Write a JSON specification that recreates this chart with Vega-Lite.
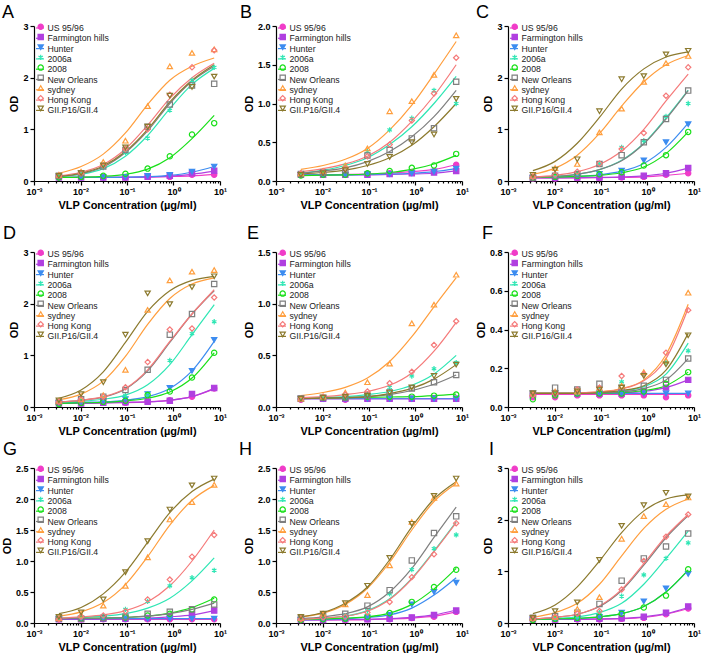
{
"$schema": "https://vega.github.io/schema/vega-lite/v6.json",
"padding": {"left": 1, "top": 4, "right": 1, "bottom": 2},
"data": {"values": [
{"p":"A","s":"US 95/96","c":0.00343,"y":0.07,"f":0.07},{"p":"A","s":"US 95/96","c":0.0103,"y":0.07,"f":0.07},{"p":"A","s":"US 95/96","c":0.0309,"y":0.07,"f":0.07},{"p":"A","s":"US 95/96","c":0.0926,"y":0.07,"f":0.07},{"p":"A","s":"US 95/96","c":0.278,"y":0.08,"f":0.075},{"p":"A","s":"US 95/96","c":0.833,"y":0.08,"f":0.085},{"p":"A","s":"US 95/96","c":2.5,"y":0.12,"f":0.1},{"p":"A","s":"US 95/96","c":7.5,"y":0.12,"f":0.13},
{"p":"A","s":"Farmington hills","c":0.00343,"y":0.07,"f":0.07},{"p":"A","s":"Farmington hills","c":0.0103,"y":0.07,"f":0.07},{"p":"A","s":"Farmington hills","c":0.0309,"y":0.07,"f":0.07},{"p":"A","s":"Farmington hills","c":0.0926,"y":0.07,"f":0.072},{"p":"A","s":"Farmington hills","c":0.278,"y":0.08,"f":0.08},{"p":"A","s":"Farmington hills","c":0.833,"y":0.1,"f":0.095},{"p":"A","s":"Farmington hills","c":2.5,"y":0.15,"f":0.13},{"p":"A","s":"Farmington hills","c":7.5,"y":0.2,"f":0.19},
{"p":"A","s":"Hunter","c":0.00343,"y":0.07,"f":0.07},{"p":"A","s":"Hunter","c":0.0103,"y":0.07,"f":0.07},{"p":"A","s":"Hunter","c":0.0309,"y":0.07,"f":0.07},{"p":"A","s":"Hunter","c":0.0926,"y":0.08,"f":0.075},{"p":"A","s":"Hunter","c":0.278,"y":0.1,"f":0.085},{"p":"A","s":"Hunter","c":0.833,"y":0.12,"f":0.11},{"p":"A","s":"Hunter","c":2.5,"y":0.18,"f":0.17},{"p":"A","s":"Hunter","c":7.5,"y":0.28,"f":0.28},
{"p":"A","s":"2006a","c":0.00343,"y":0.1,"f":0.08},{"p":"A","s":"2006a","c":0.0103,"y":0.14,"f":0.13},{"p":"A","s":"2006a","c":0.0309,"y":0.26,"f":0.24},{"p":"A","s":"2006a","c":0.0926,"y":0.55,"f":0.48},{"p":"A","s":"2006a","c":0.278,"y":0.83,"f":0.88},{"p":"A","s":"2006a","c":0.833,"y":1.37,"f":1.4},{"p":"A","s":"2006a","c":2.5,"y":1.95,"f":1.87},{"p":"A","s":"2006a","c":7.5,"y":2.2,"f":2.18},
{"p":"A","s":"2008","c":0.00343,"y":0.07,"f":0.07},{"p":"A","s":"2008","c":0.0103,"y":0.08,"f":0.075},{"p":"A","s":"2008","c":0.0309,"y":0.1,"f":0.09},{"p":"A","s":"2008","c":0.0926,"y":0.14,"f":0.13},{"p":"A","s":"2008","c":0.278,"y":0.24,"f":0.23},{"p":"A","s":"2008","c":0.833,"y":0.48,"f":0.45},{"p":"A","s":"2008","c":2.5,"y":0.9,"f":0.82},{"p":"A","s":"2008","c":7.5,"y":1.12,"f":1.27},
{"p":"A","s":"New Orleans","c":0.00343,"y":0.1,"f":0.09},{"p":"A","s":"New Orleans","c":0.0103,"y":0.15,"f":0.14},{"p":"A","s":"New Orleans","c":0.0309,"y":0.28,"f":0.27},{"p":"A","s":"New Orleans","c":0.0926,"y":0.6,"f":0.55},{"p":"A","s":"New Orleans","c":0.278,"y":1.05,"f":0.97},{"p":"A","s":"New Orleans","c":0.833,"y":1.48,"f":1.5},{"p":"A","s":"New Orleans","c":2.5,"y":1.85,"f":1.93},{"p":"A","s":"New Orleans","c":7.5,"y":1.88,"f":2.22},
{"p":"A","s":"sydney","c":0.00343,"y":0.12,"f":0.15},{"p":"A","s":"sydney","c":0.0103,"y":0.18,"f":0.28},{"p":"A","s":"sydney","c":0.0309,"y":0.37,"f":0.52},{"p":"A","s":"sydney","c":0.0926,"y":0.78,"f":0.93},{"p":"A","s":"sydney","c":0.278,"y":1.45,"f":1.48},{"p":"A","s":"sydney","c":0.833,"y":2.22,"f":1.95},{"p":"A","s":"sydney","c":2.5,"y":2.48,"f":2.22},{"p":"A","s":"sydney","c":7.5,"y":2.55,"f":2.38},
{"p":"A","s":"Hong Kong","c":0.00343,"y":0.1,"f":0.1},{"p":"A","s":"Hong Kong","c":0.0103,"y":0.15,"f":0.17},{"p":"A","s":"Hong Kong","c":0.0309,"y":0.3,"f":0.32},{"p":"A","s":"Hong Kong","c":0.0926,"y":0.62,"f":0.62},{"p":"A","s":"Hong Kong","c":0.278,"y":1.0,"f":1.08},{"p":"A","s":"Hong Kong","c":0.833,"y":1.67,"f":1.6},{"p":"A","s":"Hong Kong","c":2.5,"y":2.2,"f":2.0},{"p":"A","s":"Hong Kong","c":7.5,"y":2.53,"f":2.28},
{"p":"A","s":"GII.P16/GII.4","c":0.00343,"y":0.1,"f":0.09},{"p":"A","s":"GII.P16/GII.4","c":0.0103,"y":0.15,"f":0.15},{"p":"A","s":"GII.P16/GII.4","c":0.0309,"y":0.3,"f":0.29},{"p":"A","s":"GII.P16/GII.4","c":0.0926,"y":0.65,"f":0.57},{"p":"A","s":"GII.P16/GII.4","c":0.278,"y":1.05,"f":1.0},{"p":"A","s":"GII.P16/GII.4","c":0.833,"y":1.65,"f":1.53},{"p":"A","s":"GII.P16/GII.4","c":2.5,"y":1.82,"f":1.95},{"p":"A","s":"GII.P16/GII.4","c":7.5,"y":2.02,"f":2.25},
{"p":"B","s":"US 95/96","c":0.00343,"y":0.08,"f":0.08},{"p":"B","s":"US 95/96","c":0.0103,"y":0.08,"f":0.08},{"p":"B","s":"US 95/96","c":0.0309,"y":0.08,"f":0.085},{"p":"B","s":"US 95/96","c":0.0926,"y":0.09,"f":0.09},{"p":"B","s":"US 95/96","c":0.278,"y":0.1,"f":0.1},{"p":"B","s":"US 95/96","c":0.833,"y":0.11,"f":0.12},{"p":"B","s":"US 95/96","c":2.5,"y":0.13,"f":0.15},{"p":"B","s":"US 95/96","c":7.5,"y":0.21,"f":0.21},
{"p":"B","s":"Farmington hills","c":0.00343,"y":0.08,"f":0.08},{"p":"B","s":"Farmington hills","c":0.0103,"y":0.08,"f":0.08},{"p":"B","s":"Farmington hills","c":0.0309,"y":0.08,"f":0.08},{"p":"B","s":"Farmington hills","c":0.0926,"y":0.08,"f":0.08},{"p":"B","s":"Farmington hills","c":0.278,"y":0.09,"f":0.085},{"p":"B","s":"Farmington hills","c":0.833,"y":0.1,"f":0.09},{"p":"B","s":"Farmington hills","c":2.5,"y":0.11,"f":0.1},{"p":"B","s":"Farmington hills","c":7.5,"y":0.13,"f":0.13},
{"p":"B","s":"Hunter","c":0.00343,"y":0.08,"f":0.08},{"p":"B","s":"Hunter","c":0.0103,"y":0.08,"f":0.08},{"p":"B","s":"Hunter","c":0.0309,"y":0.08,"f":0.08},{"p":"B","s":"Hunter","c":0.0926,"y":0.09,"f":0.085},{"p":"B","s":"Hunter","c":0.278,"y":0.09,"f":0.09},{"p":"B","s":"Hunter","c":0.833,"y":0.1,"f":0.1},{"p":"B","s":"Hunter","c":2.5,"y":0.12,"f":0.12},{"p":"B","s":"Hunter","c":7.5,"y":0.16,"f":0.16},
{"p":"B","s":"2006a","c":0.00343,"y":0.1,"f":0.1},{"p":"B","s":"2006a","c":0.0103,"y":0.13,"f":0.14},{"p":"B","s":"2006a","c":0.0309,"y":0.2,"f":0.2},{"p":"B","s":"2006a","c":0.0926,"y":0.38,"f":0.3},{"p":"B","s":"2006a","c":0.278,"y":0.66,"f":0.47},{"p":"B","s":"2006a","c":0.833,"y":0.81,"f":0.7},{"p":"B","s":"2006a","c":2.5,"y":1.17,"f":1.0},{"p":"B","s":"2006a","c":7.5,"y":1.0,"f":1.35},
{"p":"B","s":"2008","c":0.00343,"y":0.07,"f":0.07},{"p":"B","s":"2008","c":0.0103,"y":0.08,"f":0.075},{"p":"B","s":"2008","c":0.0309,"y":0.08,"f":0.08},{"p":"B","s":"2008","c":0.0926,"y":0.1,"f":0.09},{"p":"B","s":"2008","c":0.278,"y":0.13,"f":0.11},{"p":"B","s":"2008","c":0.833,"y":0.17,"f":0.15},{"p":"B","s":"2008","c":2.5,"y":0.2,"f":0.22},{"p":"B","s":"2008","c":7.5,"y":0.35,"f":0.33},
{"p":"B","s":"New Orleans","c":0.00343,"y":0.09,"f":0.1},{"p":"B","s":"New Orleans","c":0.0103,"y":0.11,"f":0.13},{"p":"B","s":"New Orleans","c":0.0309,"y":0.14,"f":0.17},{"p":"B","s":"New Orleans","c":0.0926,"y":0.33,"f":0.25},{"p":"B","s":"New Orleans","c":0.278,"y":0.4,"f":0.38},{"p":"B","s":"New Orleans","c":0.833,"y":0.55,"f":0.57},{"p":"B","s":"New Orleans","c":2.5,"y":0.68,"f":0.83},{"p":"B","s":"New Orleans","c":7.5,"y":1.28,"f":1.17},
{"p":"B","s":"sydney","c":0.00343,"y":0.1,"f":0.15},{"p":"B","s":"sydney","c":0.0103,"y":0.13,"f":0.2},{"p":"B","s":"sydney","c":0.0309,"y":0.2,"f":0.28},{"p":"B","s":"sydney","c":0.0926,"y":0.42,"f":0.42},{"p":"B","s":"sydney","c":0.278,"y":0.9,"f":0.66},{"p":"B","s":"sydney","c":0.833,"y":1.03,"f":0.98},{"p":"B","s":"sydney","c":2.5,"y":1.37,"f":1.38},{"p":"B","s":"sydney","c":7.5,"y":1.88,"f":1.8},
{"p":"B","s":"Hong Kong","c":0.00343,"y":0.1,"f":0.12},{"p":"B","s":"Hong Kong","c":0.0103,"y":0.12,"f":0.16},{"p":"B","s":"Hong Kong","c":0.0309,"y":0.16,"f":0.22},{"p":"B","s":"Hong Kong","c":0.0926,"y":0.32,"f":0.32},{"p":"B","s":"Hong Kong","c":0.278,"y":0.47,"f":0.5},{"p":"B","s":"Hong Kong","c":0.833,"y":0.78,"f":0.77},{"p":"B","s":"Hong Kong","c":2.5,"y":1.13,"f":1.1},{"p":"B","s":"Hong Kong","c":7.5,"y":1.59,"f":1.5},
{"p":"B","s":"GII.P16/GII.4","c":0.00343,"y":0.08,"f":0.09},{"p":"B","s":"GII.P16/GII.4","c":0.0103,"y":0.1,"f":0.11},{"p":"B","s":"GII.P16/GII.4","c":0.0309,"y":0.14,"f":0.14},{"p":"B","s":"GII.P16/GII.4","c":0.0926,"y":0.22,"f":0.2},{"p":"B","s":"GII.P16/GII.4","c":0.278,"y":0.31,"f":0.3},{"p":"B","s":"GII.P16/GII.4","c":0.833,"y":0.5,"f":0.46},{"p":"B","s":"GII.P16/GII.4","c":2.5,"y":0.6,"f":0.7},{"p":"B","s":"GII.P16/GII.4","c":7.5,"y":1.06,"f":1.0},
{"p":"C","s":"US 95/96","c":0.00343,"y":0.05,"f":0.06},{"p":"C","s":"US 95/96","c":0.0103,"y":0.05,"f":0.06},{"p":"C","s":"US 95/96","c":0.0309,"y":0.06,"f":0.06},{"p":"C","s":"US 95/96","c":0.0926,"y":0.06,"f":0.065},{"p":"C","s":"US 95/96","c":0.278,"y":0.07,"f":0.07},{"p":"C","s":"US 95/96","c":0.833,"y":0.08,"f":0.08},{"p":"C","s":"US 95/96","c":2.5,"y":0.12,"f":0.11},{"p":"C","s":"US 95/96","c":7.5,"y":0.15,"f":0.15},
{"p":"C","s":"Farmington hills","c":0.00343,"y":0.06,"f":0.06},{"p":"C","s":"Farmington hills","c":0.0103,"y":0.06,"f":0.06},{"p":"C","s":"Farmington hills","c":0.0309,"y":0.07,"f":0.065},{"p":"C","s":"Farmington hills","c":0.0926,"y":0.07,"f":0.07},{"p":"C","s":"Farmington hills","c":0.278,"y":0.08,"f":0.08},{"p":"C","s":"Farmington hills","c":0.833,"y":0.1,"f":0.1},{"p":"C","s":"Farmington hills","c":2.5,"y":0.15,"f":0.15},{"p":"C","s":"Farmington hills","c":7.5,"y":0.25,"f":0.25},
{"p":"C","s":"Hunter","c":0.00343,"y":0.06,"f":0.07},{"p":"C","s":"Hunter","c":0.0103,"y":0.08,"f":0.08},{"p":"C","s":"Hunter","c":0.0309,"y":0.1,"f":0.09},{"p":"C","s":"Hunter","c":0.0926,"y":0.14,"f":0.12},{"p":"C","s":"Hunter","c":0.278,"y":0.2,"f":0.19},{"p":"C","s":"Hunter","c":0.833,"y":0.4,"f":0.34},{"p":"C","s":"Hunter","c":2.5,"y":0.75,"f":0.65},{"p":"C","s":"Hunter","c":7.5,"y":1.1,"f":1.12},
{"p":"C","s":"2006a","c":0.00343,"y":0.07,"f":0.07},{"p":"C","s":"2006a","c":0.0103,"y":0.1,"f":0.09},{"p":"C","s":"2006a","c":0.0309,"y":0.15,"f":0.13},{"p":"C","s":"2006a","c":0.0926,"y":0.33,"f":0.22},{"p":"C","s":"2006a","c":0.278,"y":0.65,"f":0.4},{"p":"C","s":"2006a","c":0.833,"y":0.78,"f":0.73},{"p":"C","s":"2006a","c":2.5,"y":1.25,"f":1.22},{"p":"C","s":"2006a","c":7.5,"y":1.5,"f":1.76},
{"p":"C","s":"2008","c":0.00343,"y":0.06,"f":0.07},{"p":"C","s":"2008","c":0.0103,"y":0.08,"f":0.075},{"p":"C","s":"2008","c":0.0309,"y":0.1,"f":0.09},{"p":"C","s":"2008","c":0.0926,"y":0.13,"f":0.11},{"p":"C","s":"2008","c":0.278,"y":0.17,"f":0.16},{"p":"C","s":"2008","c":0.833,"y":0.3,"f":0.27},{"p":"C","s":"2008","c":2.5,"y":0.5,"f":0.53},{"p":"C","s":"2008","c":7.5,"y":0.95,"f":0.95},
{"p":"C","s":"New Orleans","c":0.00343,"y":0.07,"f":0.07},{"p":"C","s":"New Orleans","c":0.0103,"y":0.1,"f":0.09},{"p":"C","s":"New Orleans","c":0.0309,"y":0.13,"f":0.13},{"p":"C","s":"New Orleans","c":0.0926,"y":0.33,"f":0.22},{"p":"C","s":"New Orleans","c":0.278,"y":0.5,"f":0.39},{"p":"C","s":"New Orleans","c":0.833,"y":0.75,"f":0.72},{"p":"C","s":"New Orleans","c":2.5,"y":1.2,"f":1.2},{"p":"C","s":"New Orleans","c":7.5,"y":1.75,"f":1.75},
{"p":"C","s":"sydney","c":0.00343,"y":0.1,"f":0.13},{"p":"C","s":"sydney","c":0.0103,"y":0.25,"f":0.25},{"p":"C","s":"sydney","c":0.0309,"y":0.33,"f":0.5},{"p":"C","s":"sydney","c":0.0926,"y":0.94,"f":0.92},{"p":"C","s":"sydney","c":0.278,"y":1.4,"f":1.45},{"p":"C","s":"sydney","c":0.833,"y":1.92,"f":1.92},{"p":"C","s":"sydney","c":2.5,"y":2.28,"f":2.25},{"p":"C","s":"sydney","c":7.5,"y":2.42,"f":2.43},
{"p":"C","s":"Hong Kong","c":0.00343,"y":0.08,"f":0.08},{"p":"C","s":"Hong Kong","c":0.0103,"y":0.12,"f":0.11},{"p":"C","s":"Hong Kong","c":0.0309,"y":0.18,"f":0.18},{"p":"C","s":"Hong Kong","c":0.0926,"y":0.34,"f":0.32},{"p":"C","s":"Hong Kong","c":0.278,"y":0.62,"f":0.58},{"p":"C","s":"Hong Kong","c":0.833,"y":0.93,"f":1.0},{"p":"C","s":"Hong Kong","c":2.5,"y":1.65,"f":1.55},{"p":"C","s":"Hong Kong","c":7.5,"y":2.2,"f":2.07},
{"p":"C","s":"GII.P16/GII.4","c":0.00343,"y":0.12,"f":0.2},{"p":"C","s":"GII.P16/GII.4","c":0.0103,"y":0.22,"f":0.38},{"p":"C","s":"GII.P16/GII.4","c":0.0309,"y":0.42,"f":0.73},{"p":"C","s":"GII.P16/GII.4","c":0.0926,"y":1.35,"f":1.23},{"p":"C","s":"GII.P16/GII.4","c":0.278,"y":1.97,"f":1.78},{"p":"C","s":"GII.P16/GII.4","c":0.833,"y":2.03,"f":2.17},{"p":"C","s":"GII.P16/GII.4","c":2.5,"y":2.45,"f":2.4},{"p":"C","s":"GII.P16/GII.4","c":7.5,"y":2.52,"f":2.5},
{"p":"D","s":"US 95/96","c":0.00343,"y":0.07,"f":0.07},{"p":"D","s":"US 95/96","c":0.0103,"y":0.07,"f":0.07},{"p":"D","s":"US 95/96","c":0.0309,"y":0.08,"f":0.08},{"p":"D","s":"US 95/96","c":0.0926,"y":0.08,"f":0.085},{"p":"D","s":"US 95/96","c":0.278,"y":0.1,"f":0.1},{"p":"D","s":"US 95/96","c":0.833,"y":0.13,"f":0.13},{"p":"D","s":"US 95/96","c":2.5,"y":0.2,"f":0.2},{"p":"D","s":"US 95/96","c":7.5,"y":0.36,"f":0.35},
{"p":"D","s":"Farmington hills","c":0.00343,"y":0.07,"f":0.07},{"p":"D","s":"Farmington hills","c":0.0103,"y":0.07,"f":0.07},{"p":"D","s":"Farmington hills","c":0.0309,"y":0.08,"f":0.08},{"p":"D","s":"Farmington hills","c":0.0926,"y":0.09,"f":0.09},{"p":"D","s":"Farmington hills","c":0.278,"y":0.1,"f":0.1},{"p":"D","s":"Farmington hills","c":0.833,"y":0.12,"f":0.13},{"p":"D","s":"Farmington hills","c":2.5,"y":0.25,"f":0.2},{"p":"D","s":"Farmington hills","c":7.5,"y":0.37,"f":0.36},
{"p":"D","s":"Hunter","c":0.00343,"y":0.08,"f":0.08},{"p":"D","s":"Hunter","c":0.0103,"y":0.1,"f":0.09},{"p":"D","s":"Hunter","c":0.0309,"y":0.12,"f":0.1},{"p":"D","s":"Hunter","c":0.0926,"y":0.15,"f":0.13},{"p":"D","s":"Hunter","c":0.278,"y":0.25,"f":0.2},{"p":"D","s":"Hunter","c":0.833,"y":0.37,"f":0.36},{"p":"D","s":"Hunter","c":2.5,"y":0.7,"f":0.7},{"p":"D","s":"Hunter","c":7.5,"y":1.3,"f":1.27},
{"p":"D","s":"2006a","c":0.00343,"y":0.1,"f":0.09},{"p":"D","s":"2006a","c":0.0103,"y":0.12,"f":0.11},{"p":"D","s":"2006a","c":0.0309,"y":0.17,"f":0.15},{"p":"D","s":"2006a","c":0.0926,"y":0.22,"f":0.23},{"p":"D","s":"2006a","c":0.278,"y":0.25,"f":0.43},{"p":"D","s":"2006a","c":0.833,"y":0.9,"f":0.82},{"p":"D","s":"2006a","c":2.5,"y":1.42,"f":1.4},{"p":"D","s":"2006a","c":7.5,"y":1.65,"f":1.98},
{"p":"D","s":"2008","c":0.00343,"y":0.06,"f":0.07},{"p":"D","s":"2008","c":0.0103,"y":0.08,"f":0.08},{"p":"D","s":"2008","c":0.0309,"y":0.1,"f":0.09},{"p":"D","s":"2008","c":0.0926,"y":0.12,"f":0.12},{"p":"D","s":"2008","c":0.278,"y":0.23,"f":0.17},{"p":"D","s":"2008","c":0.833,"y":0.3,"f":0.29},{"p":"D","s":"2008","c":2.5,"y":0.57,"f":0.56},{"p":"D","s":"2008","c":7.5,"y":1.05,"f":1.05},
{"p":"D","s":"New Orleans","c":0.00343,"y":0.1,"f":0.1},{"p":"D","s":"New Orleans","c":0.0103,"y":0.15,"f":0.13},{"p":"D","s":"New Orleans","c":0.0309,"y":0.2,"f":0.19},{"p":"D","s":"New Orleans","c":0.0926,"y":0.33,"f":0.35},{"p":"D","s":"New Orleans","c":0.278,"y":0.72,"f":0.7},{"p":"D","s":"New Orleans","c":0.833,"y":1.4,"f":1.25},{"p":"D","s":"New Orleans","c":2.5,"y":1.8,"f":1.8},{"p":"D","s":"New Orleans","c":7.5,"y":2.38,"f":2.25},
{"p":"D","s":"sydney","c":0.00343,"y":0.12,"f":0.14},{"p":"D","s":"sydney","c":0.0103,"y":0.15,"f":0.25},{"p":"D","s":"sydney","c":0.0309,"y":0.23,"f":0.5},{"p":"D","s":"sydney","c":0.0926,"y":0.72,"f":0.98},{"p":"D","s":"sydney","c":0.278,"y":1.88,"f":1.6},{"p":"D","s":"sydney","c":0.833,"y":2.45,"f":2.1},{"p":"D","s":"sydney","c":2.5,"y":2.62,"f":2.38},{"p":"D","s":"sydney","c":7.5,"y":2.65,"f":2.5},
{"p":"D","s":"Hong Kong","c":0.00343,"y":0.1,"f":0.1},{"p":"D","s":"Hong Kong","c":0.0103,"y":0.15,"f":0.13},{"p":"D","s":"Hong Kong","c":0.0309,"y":0.2,"f":0.2},{"p":"D","s":"Hong Kong","c":0.0926,"y":0.38,"f":0.36},{"p":"D","s":"Hong Kong","c":0.278,"y":0.87,"f":0.72},{"p":"D","s":"Hong Kong","c":0.833,"y":1.5,"f":1.27},{"p":"D","s":"Hong Kong","c":2.5,"y":1.52,"f":1.8},{"p":"D","s":"Hong Kong","c":7.5,"y":2.12,"f":2.27},
{"p":"D","s":"GII.P16/GII.4","c":0.00343,"y":0.13,"f":0.17},{"p":"D","s":"GII.P16/GII.4","c":0.0103,"y":0.25,"f":0.33},{"p":"D","s":"GII.P16/GII.4","c":0.0309,"y":0.48,"f":0.68},{"p":"D","s":"GII.P16/GII.4","c":0.0926,"y":1.4,"f":1.25},{"p":"D","s":"GII.P16/GII.4","c":0.278,"y":2.2,"f":1.85},{"p":"D","s":"GII.P16/GII.4","c":0.833,"y":1.99,"f":2.25},{"p":"D","s":"GII.P16/GII.4","c":2.5,"y":2.32,"f":2.45},{"p":"D","s":"GII.P16/GII.4","c":7.5,"y":2.53,"f":2.53},
{"p":"E","s":"US 95/96","c":0.00343,"y":0.07,"f":0.08},{"p":"E","s":"US 95/96","c":0.0103,"y":0.08,"f":0.08},{"p":"E","s":"US 95/96","c":0.0309,"y":0.07,"f":0.08},{"p":"E","s":"US 95/96","c":0.0926,"y":0.08,"f":0.08},{"p":"E","s":"US 95/96","c":0.278,"y":0.08,"f":0.08},{"p":"E","s":"US 95/96","c":0.833,"y":0.08,"f":0.08},{"p":"E","s":"US 95/96","c":2.5,"y":0.08,"f":0.08},{"p":"E","s":"US 95/96","c":7.5,"y":0.08,"f":0.08},
{"p":"E","s":"Farmington hills","c":0.00343,"y":0.08,"f":0.08},{"p":"E","s":"Farmington hills","c":0.0103,"y":0.08,"f":0.08},{"p":"E","s":"Farmington hills","c":0.0309,"y":0.08,"f":0.08},{"p":"E","s":"Farmington hills","c":0.0926,"y":0.08,"f":0.08},{"p":"E","s":"Farmington hills","c":0.278,"y":0.08,"f":0.08},{"p":"E","s":"Farmington hills","c":0.833,"y":0.08,"f":0.08},{"p":"E","s":"Farmington hills","c":2.5,"y":0.08,"f":0.08},{"p":"E","s":"Farmington hills","c":7.5,"y":0.08,"f":0.08},
{"p":"E","s":"Hunter","c":0.00343,"y":0.08,"f":0.08},{"p":"E","s":"Hunter","c":0.0103,"y":0.08,"f":0.08},{"p":"E","s":"Hunter","c":0.0309,"y":0.08,"f":0.08},{"p":"E","s":"Hunter","c":0.0926,"y":0.08,"f":0.08},{"p":"E","s":"Hunter","c":0.278,"y":0.08,"f":0.08},{"p":"E","s":"Hunter","c":0.833,"y":0.08,"f":0.08},{"p":"E","s":"Hunter","c":2.5,"y":0.08,"f":0.08},{"p":"E","s":"Hunter","c":7.5,"y":0.08,"f":0.08},
{"p":"E","s":"2006a","c":0.00343,"y":0.08,"f":0.08},{"p":"E","s":"2006a","c":0.0103,"y":0.09,"f":0.09},{"p":"E","s":"2006a","c":0.0309,"y":0.1,"f":0.1},{"p":"E","s":"2006a","c":0.0926,"y":0.12,"f":0.12},{"p":"E","s":"2006a","c":0.278,"y":0.19,"f":0.15},{"p":"E","s":"2006a","c":0.833,"y":0.3,"f":0.21},{"p":"E","s":"2006a","c":2.5,"y":0.37,"f":0.32},{"p":"E","s":"2006a","c":7.5,"y":0.43,"f":0.5},
{"p":"E","s":"2008","c":0.00343,"y":0.08,"f":0.085},{"p":"E","s":"2008","c":0.0103,"y":0.09,"f":0.088},{"p":"E","s":"2008","c":0.0309,"y":0.09,"f":0.09},{"p":"E","s":"2008","c":0.0926,"y":0.1,"f":0.093},{"p":"E","s":"2008","c":0.278,"y":0.1,"f":0.097},{"p":"E","s":"2008","c":0.833,"y":0.1,"f":0.1},{"p":"E","s":"2008","c":2.5,"y":0.11,"f":0.11},{"p":"E","s":"2008","c":7.5,"y":0.12,"f":0.125},
{"p":"E","s":"New Orleans","c":0.00343,"y":0.08,"f":0.08},{"p":"E","s":"New Orleans","c":0.0103,"y":0.09,"f":0.085},{"p":"E","s":"New Orleans","c":0.0309,"y":0.09,"f":0.09},{"p":"E","s":"New Orleans","c":0.0926,"y":0.11,"f":0.1},{"p":"E","s":"New Orleans","c":0.278,"y":0.14,"f":0.12},{"p":"E","s":"New Orleans","c":0.833,"y":0.18,"f":0.16},{"p":"E","s":"New Orleans","c":2.5,"y":0.24,"f":0.22},{"p":"E","s":"New Orleans","c":7.5,"y":0.31,"f":0.31},
{"p":"E","s":"sydney","c":0.00343,"y":0.08,"f":0.11},{"p":"E","s":"sydney","c":0.0103,"y":0.1,"f":0.14},{"p":"E","s":"sydney","c":0.0309,"y":0.14,"f":0.19},{"p":"E","s":"sydney","c":0.0926,"y":0.24,"f":0.28},{"p":"E","s":"sydney","c":0.278,"y":0.42,"f":0.44},{"p":"E","s":"sydney","c":0.833,"y":0.81,"f":0.68},{"p":"E","s":"sydney","c":2.5,"y":0.99,"f":0.97},{"p":"E","s":"sydney","c":7.5,"y":1.28,"f":1.25},
{"p":"E","s":"Hong Kong","c":0.00343,"y":0.08,"f":0.09},{"p":"E","s":"Hong Kong","c":0.0103,"y":0.1,"f":0.1},{"p":"E","s":"Hong Kong","c":0.0309,"y":0.12,"f":0.12},{"p":"E","s":"Hong Kong","c":0.0926,"y":0.15,"f":0.15},{"p":"E","s":"Hong Kong","c":0.278,"y":0.23,"f":0.21},{"p":"E","s":"Hong Kong","c":0.833,"y":0.34,"f":0.33},{"p":"E","s":"Hong Kong","c":2.5,"y":0.6,"f":0.54},{"p":"E","s":"Hong Kong","c":7.5,"y":0.83,"f":0.82},
{"p":"E","s":"GII.P16/GII.4","c":0.00343,"y":0.08,"f":0.08},{"p":"E","s":"GII.P16/GII.4","c":0.0103,"y":0.09,"f":0.085},{"p":"E","s":"GII.P16/GII.4","c":0.0309,"y":0.1,"f":0.09},{"p":"E","s":"GII.P16/GII.4","c":0.0926,"y":0.11,"f":0.1},{"p":"E","s":"GII.P16/GII.4","c":0.278,"y":0.14,"f":0.13},{"p":"E","s":"GII.P16/GII.4","c":0.833,"y":0.19,"f":0.18},{"p":"E","s":"GII.P16/GII.4","c":2.5,"y":0.3,"f":0.27},{"p":"E","s":"GII.P16/GII.4","c":7.5,"y":0.41,"f":0.41},
{"p":"F","s":"US 95/96","c":0.00343,"y":0.05,"f":0.065},{"p":"F","s":"US 95/96","c":0.0103,"y":0.05,"f":0.065},{"p":"F","s":"US 95/96","c":0.0309,"y":0.06,"f":0.065},{"p":"F","s":"US 95/96","c":0.0926,"y":0.06,"f":0.065},{"p":"F","s":"US 95/96","c":0.278,"y":0.06,"f":0.065},{"p":"F","s":"US 95/96","c":0.833,"y":0.06,"f":0.065},{"p":"F","s":"US 95/96","c":2.5,"y":0.05,"f":0.065},{"p":"F","s":"US 95/96","c":7.5,"y":0.06,"f":0.065},
{"p":"F","s":"Farmington hills","c":0.00343,"y":0.06,"f":0.07},{"p":"F","s":"Farmington hills","c":0.0103,"y":0.07,"f":0.07},{"p":"F","s":"Farmington hills","c":0.0309,"y":0.07,"f":0.07},{"p":"F","s":"Farmington hills","c":0.0926,"y":0.07,"f":0.07},{"p":"F","s":"Farmington hills","c":0.278,"y":0.07,"f":0.073},{"p":"F","s":"Farmington hills","c":0.833,"y":0.08,"f":0.08},{"p":"F","s":"Farmington hills","c":2.5,"y":0.1,"f":0.1},{"p":"F","s":"Farmington hills","c":7.5,"y":0.14,"f":0.14},
{"p":"F","s":"Hunter","c":0.00343,"y":0.07,"f":0.07},{"p":"F","s":"Hunter","c":0.0103,"y":0.07,"f":0.07},{"p":"F","s":"Hunter","c":0.0309,"y":0.07,"f":0.07},{"p":"F","s":"Hunter","c":0.0926,"y":0.07,"f":0.07},{"p":"F","s":"Hunter","c":0.278,"y":0.07,"f":0.07},{"p":"F","s":"Hunter","c":0.833,"y":0.07,"f":0.07},{"p":"F","s":"Hunter","c":2.5,"y":0.07,"f":0.07},{"p":"F","s":"Hunter","c":7.5,"y":0.07,"f":0.07},
{"p":"F","s":"2006a","c":0.00343,"y":0.06,"f":0.07},{"p":"F","s":"2006a","c":0.0103,"y":0.07,"f":0.07},{"p":"F","s":"2006a","c":0.0309,"y":0.08,"f":0.07},{"p":"F","s":"2006a","c":0.0926,"y":0.09,"f":0.073},{"p":"F","s":"2006a","c":0.278,"y":0.13,"f":0.082},{"p":"F","s":"2006a","c":0.833,"y":0.17,"f":0.105},{"p":"F","s":"2006a","c":2.5,"y":0.23,"f":0.17},{"p":"F","s":"2006a","c":7.5,"y":0.29,"f":0.33},
{"p":"F","s":"2008","c":0.00343,"y":0.04,"f":0.07},{"p":"F","s":"2008","c":0.0103,"y":0.06,"f":0.07},{"p":"F","s":"2008","c":0.0309,"y":0.07,"f":0.07},{"p":"F","s":"2008","c":0.0926,"y":0.07,"f":0.071},{"p":"F","s":"2008","c":0.278,"y":0.07,"f":0.075},{"p":"F","s":"2008","c":0.833,"y":0.08,"f":0.085},{"p":"F","s":"2008","c":2.5,"y":0.12,"f":0.11},{"p":"F","s":"2008","c":7.5,"y":0.18,"f":0.18},
{"p":"F","s":"New Orleans","c":0.00343,"y":0.07,"f":0.07},{"p":"F","s":"New Orleans","c":0.0103,"y":0.1,"f":0.07},{"p":"F","s":"New Orleans","c":0.0309,"y":0.09,"f":0.07},{"p":"F","s":"New Orleans","c":0.0926,"y":0.12,"f":0.072},{"p":"F","s":"New Orleans","c":0.278,"y":0.1,"f":0.078},{"p":"F","s":"New Orleans","c":0.833,"y":0.11,"f":0.095},{"p":"F","s":"New Orleans","c":2.5,"y":0.14,"f":0.14},{"p":"F","s":"New Orleans","c":7.5,"y":0.25,"f":0.25},
{"p":"F","s":"sydney","c":0.00343,"y":0.07,"f":0.07},{"p":"F","s":"sydney","c":0.0103,"y":0.08,"f":0.07},{"p":"F","s":"sydney","c":0.0309,"y":0.08,"f":0.072},{"p":"F","s":"sydney","c":0.0926,"y":0.1,"f":0.078},{"p":"F","s":"sydney","c":0.278,"y":0.11,"f":0.095},{"p":"F","s":"sydney","c":0.833,"y":0.18,"f":0.14},{"p":"F","s":"sydney","c":2.5,"y":0.24,"f":0.27},{"p":"F","s":"sydney","c":7.5,"y":0.59,"f":0.53},
{"p":"F","s":"Hong Kong","c":0.00343,"y":0.06,"f":0.07},{"p":"F","s":"Hong Kong","c":0.0103,"y":0.07,"f":0.07},{"p":"F","s":"Hong Kong","c":0.0309,"y":0.09,"f":0.072},{"p":"F","s":"Hong Kong","c":0.0926,"y":0.1,"f":0.078},{"p":"F","s":"Hong Kong","c":0.278,"y":0.16,"f":0.093},{"p":"F","s":"Hong Kong","c":0.833,"y":0.17,"f":0.135},{"p":"F","s":"Hong Kong","c":2.5,"y":0.28,"f":0.25},{"p":"F","s":"Hong Kong","c":7.5,"y":0.5,"f":0.51},
{"p":"F","s":"GII.P16/GII.4","c":0.00343,"y":0.07,"f":0.07},{"p":"F","s":"GII.P16/GII.4","c":0.0103,"y":0.07,"f":0.07},{"p":"F","s":"GII.P16/GII.4","c":0.0309,"y":0.08,"f":0.07},{"p":"F","s":"GII.P16/GII.4","c":0.0926,"y":0.09,"f":0.075},{"p":"F","s":"GII.P16/GII.4","c":0.278,"y":0.1,"f":0.085},{"p":"F","s":"GII.P16/GII.4","c":0.833,"y":0.16,"f":0.11},{"p":"F","s":"GII.P16/GII.4","c":2.5,"y":0.22,"f":0.19},{"p":"F","s":"GII.P16/GII.4","c":7.5,"y":0.37,"f":0.38},
{"p":"G","s":"US 95/96","c":0.00343,"y":0.06,"f":0.06},{"p":"G","s":"US 95/96","c":0.0103,"y":0.06,"f":0.06},{"p":"G","s":"US 95/96","c":0.0309,"y":0.06,"f":0.06},{"p":"G","s":"US 95/96","c":0.0926,"y":0.06,"f":0.06},{"p":"G","s":"US 95/96","c":0.278,"y":0.06,"f":0.06},{"p":"G","s":"US 95/96","c":0.833,"y":0.06,"f":0.06},{"p":"G","s":"US 95/96","c":2.5,"y":0.06,"f":0.06},{"p":"G","s":"US 95/96","c":7.5,"y":0.06,"f":0.06},
{"p":"G","s":"Farmington hills","c":0.00343,"y":0.06,"f":0.06},{"p":"G","s":"Farmington hills","c":0.0103,"y":0.06,"f":0.06},{"p":"G","s":"Farmington hills","c":0.0309,"y":0.07,"f":0.065},{"p":"G","s":"Farmington hills","c":0.0926,"y":0.07,"f":0.07},{"p":"G","s":"Farmington hills","c":0.278,"y":0.08,"f":0.08},{"p":"G","s":"Farmington hills","c":0.833,"y":0.1,"f":0.1},{"p":"G","s":"Farmington hills","c":2.5,"y":0.13,"f":0.13},{"p":"G","s":"Farmington hills","c":7.5,"y":0.2,"f":0.2},
{"p":"G","s":"Hunter","c":0.00343,"y":0.07,"f":0.07},{"p":"G","s":"Hunter","c":0.0103,"y":0.07,"f":0.07},{"p":"G","s":"Hunter","c":0.0309,"y":0.07,"f":0.07},{"p":"G","s":"Hunter","c":0.0926,"y":0.07,"f":0.07},{"p":"G","s":"Hunter","c":0.278,"y":0.07,"f":0.07},{"p":"G","s":"Hunter","c":0.833,"y":0.07,"f":0.07},{"p":"G","s":"Hunter","c":2.5,"y":0.07,"f":0.07},{"p":"G","s":"Hunter","c":7.5,"y":0.07,"f":0.07},
{"p":"G","s":"2006a","c":0.00343,"y":0.07,"f":0.08},{"p":"G","s":"2006a","c":0.0103,"y":0.1,"f":0.09},{"p":"G","s":"2006a","c":0.0309,"y":0.12,"f":0.11},{"p":"G","s":"2006a","c":0.0926,"y":0.22,"f":0.15},{"p":"G","s":"2006a","c":0.278,"y":0.35,"f":0.24},{"p":"G","s":"2006a","c":0.833,"y":0.6,"f":0.4},{"p":"G","s":"2006a","c":2.5,"y":0.73,"f":0.68},{"p":"G","s":"2006a","c":7.5,"y":0.85,"f":1.05},
{"p":"G","s":"2008","c":0.00343,"y":0.07,"f":0.07},{"p":"G","s":"2008","c":0.0103,"y":0.07,"f":0.075},{"p":"G","s":"2008","c":0.0309,"y":0.08,"f":0.08},{"p":"G","s":"2008","c":0.0926,"y":0.09,"f":0.09},{"p":"G","s":"2008","c":0.278,"y":0.12,"f":0.11},{"p":"G","s":"2008","c":0.833,"y":0.15,"f":0.16},{"p":"G","s":"2008","c":2.5,"y":0.22,"f":0.25},{"p":"G","s":"2008","c":7.5,"y":0.38,"f":0.4},
{"p":"G","s":"New Orleans","c":0.00343,"y":0.07,"f":0.07},{"p":"G","s":"New Orleans","c":0.0103,"y":0.07,"f":0.075},{"p":"G","s":"New Orleans","c":0.0309,"y":0.08,"f":0.08},{"p":"G","s":"New Orleans","c":0.0926,"y":0.1,"f":0.09},{"p":"G","s":"New Orleans","c":0.278,"y":0.15,"f":0.11},{"p":"G","s":"New Orleans","c":0.833,"y":0.18,"f":0.15},{"p":"G","s":"New Orleans","c":2.5,"y":0.22,"f":0.22},{"p":"G","s":"New Orleans","c":7.5,"y":0.3,"f":0.32},
{"p":"G","s":"sydney","c":0.00343,"y":0.08,"f":0.11},{"p":"G","s":"sydney","c":0.0103,"y":0.13,"f":0.18},{"p":"G","s":"sydney","c":0.0309,"y":0.28,"f":0.33},{"p":"G","s":"sydney","c":0.0926,"y":0.6,"f":0.62},{"p":"G","s":"sydney","c":0.278,"y":1.06,"f":1.07},{"p":"G","s":"sydney","c":0.833,"y":1.67,"f":1.58},{"p":"G","s":"sydney","c":2.5,"y":1.95,"f":1.98},{"p":"G","s":"sydney","c":7.5,"y":2.23,"f":2.22},
{"p":"G","s":"Hong Kong","c":0.00343,"y":0.06,"f":0.08},{"p":"G","s":"Hong Kong","c":0.0103,"y":0.1,"f":0.1},{"p":"G","s":"Hong Kong","c":0.0309,"y":0.12,"f":0.13},{"p":"G","s":"Hong Kong","c":0.0926,"y":0.19,"f":0.2},{"p":"G","s":"Hong Kong","c":0.278,"y":0.38,"f":0.34},{"p":"G","s":"Hong Kong","c":0.833,"y":0.7,"f":0.6},{"p":"G","s":"Hong Kong","c":2.5,"y":1.07,"f":1.0},{"p":"G","s":"Hong Kong","c":7.5,"y":1.42,"f":1.5},
{"p":"G","s":"GII.P16/GII.4","c":0.00343,"y":0.1,"f":0.15},{"p":"G","s":"GII.P16/GII.4","c":0.0103,"y":0.17,"f":0.25},{"p":"G","s":"GII.P16/GII.4","c":0.0309,"y":0.38,"f":0.47},{"p":"G","s":"GII.P16/GII.4","c":0.0926,"y":0.82,"f":0.82},{"p":"G","s":"GII.P16/GII.4","c":0.278,"y":1.32,"f":1.3},{"p":"G","s":"GII.P16/GII.4","c":0.833,"y":1.83,"f":1.78},{"p":"G","s":"GII.P16/GII.4","c":2.5,"y":2.22,"f":2.12},{"p":"G","s":"GII.P16/GII.4","c":7.5,"y":2.33,"f":2.32},
{"p":"H","s":"US 95/96","c":0.00343,"y":0.05,"f":0.05},{"p":"H","s":"US 95/96","c":0.0103,"y":0.05,"f":0.05},{"p":"H","s":"US 95/96","c":0.0309,"y":0.05,"f":0.05},{"p":"H","s":"US 95/96","c":0.0926,"y":0.06,"f":0.055},{"p":"H","s":"US 95/96","c":0.278,"y":0.06,"f":0.065},{"p":"H","s":"US 95/96","c":0.833,"y":0.08,"f":0.08},{"p":"H","s":"US 95/96","c":2.5,"y":0.1,"f":0.11},{"p":"H","s":"US 95/96","c":7.5,"y":0.18,"f":0.18},
{"p":"H","s":"Farmington hills","c":0.00343,"y":0.05,"f":0.05},{"p":"H","s":"Farmington hills","c":0.0103,"y":0.05,"f":0.05},{"p":"H","s":"Farmington hills","c":0.0309,"y":0.06,"f":0.055},{"p":"H","s":"Farmington hills","c":0.0926,"y":0.06,"f":0.06},{"p":"H","s":"Farmington hills","c":0.278,"y":0.07,"f":0.07},{"p":"H","s":"Farmington hills","c":0.833,"y":0.09,"f":0.09},{"p":"H","s":"Farmington hills","c":2.5,"y":0.13,"f":0.13},{"p":"H","s":"Farmington hills","c":7.5,"y":0.2,"f":0.21},
{"p":"H","s":"Hunter","c":0.00343,"y":0.05,"f":0.05},{"p":"H","s":"Hunter","c":0.0103,"y":0.06,"f":0.06},{"p":"H","s":"Hunter","c":0.0309,"y":0.07,"f":0.07},{"p":"H","s":"Hunter","c":0.0926,"y":0.09,"f":0.09},{"p":"H","s":"Hunter","c":0.278,"y":0.13,"f":0.13},{"p":"H","s":"Hunter","c":0.833,"y":0.3,"f":0.24},{"p":"H","s":"Hunter","c":2.5,"y":0.5,"f":0.45},{"p":"H","s":"Hunter","c":7.5,"y":0.65,"f":0.73},
{"p":"H","s":"2006a","c":0.00343,"y":0.07,"f":0.06},{"p":"H","s":"2006a","c":0.0103,"y":0.1,"f":0.08},{"p":"H","s":"2006a","c":0.0309,"y":0.12,"f":0.11},{"p":"H","s":"2006a","c":0.0926,"y":0.2,"f":0.2},{"p":"H","s":"2006a","c":0.278,"y":0.47,"f":0.39},{"p":"H","s":"2006a","c":0.833,"y":0.86,"f":0.72},{"p":"H","s":"2006a","c":2.5,"y":1.2,"f":1.16},{"p":"H","s":"2006a","c":7.5,"y":1.42,"f":1.63},
{"p":"H","s":"2008","c":0.00343,"y":0.05,"f":0.06},{"p":"H","s":"2008","c":0.0103,"y":0.06,"f":0.065},{"p":"H","s":"2008","c":0.0309,"y":0.07,"f":0.08},{"p":"H","s":"2008","c":0.0926,"y":0.1,"f":0.1},{"p":"H","s":"2008","c":0.278,"y":0.16,"f":0.16},{"p":"H","s":"2008","c":0.833,"y":0.34,"f":0.3},{"p":"H","s":"2008","c":2.5,"y":0.58,"f":0.55},{"p":"H","s":"2008","c":7.5,"y":0.86,"f":0.88},
{"p":"H","s":"New Orleans","c":0.00343,"y":0.08,"f":0.07},{"p":"H","s":"New Orleans","c":0.0103,"y":0.12,"f":0.1},{"p":"H","s":"New Orleans","c":0.0309,"y":0.15,"f":0.15},{"p":"H","s":"New Orleans","c":0.0926,"y":0.28,"f":0.26},{"p":"H","s":"New Orleans","c":0.278,"y":0.53,"f":0.5},{"p":"H","s":"New Orleans","c":0.833,"y":1.01,"f":0.88},{"p":"H","s":"New Orleans","c":2.5,"y":1.45,"f":1.38},{"p":"H","s":"New Orleans","c":7.5,"y":1.72,"f":1.87},
{"p":"H","s":"sydney","c":0.00343,"y":0.08,"f":0.1},{"p":"H","s":"sydney","c":0.0103,"y":0.15,"f":0.16},{"p":"H","s":"sydney","c":0.0309,"y":0.3,"f":0.3},{"p":"H","s":"sydney","c":0.0926,"y":0.45,"f":0.56},{"p":"H","s":"sydney","c":0.278,"y":0.93,"f":0.98},{"p":"H","s":"sydney","c":0.833,"y":1.63,"f":1.5},{"p":"H","s":"sydney","c":2.5,"y":2.02,"f":1.96},{"p":"H","s":"sydney","c":7.5,"y":2.25,"f":2.25},
{"p":"H","s":"Hong Kong","c":0.00343,"y":0.06,"f":0.06},{"p":"H","s":"Hong Kong","c":0.0103,"y":0.09,"f":0.08},{"p":"H","s":"Hong Kong","c":0.0309,"y":0.1,"f":0.11},{"p":"H","s":"Hong Kong","c":0.0926,"y":0.17,"f":0.19},{"p":"H","s":"Hong Kong","c":0.278,"y":0.34,"f":0.38},{"p":"H","s":"Hong Kong","c":0.833,"y":0.74,"f":0.71},{"p":"H","s":"Hong Kong","c":2.5,"y":1.11,"f":1.15},{"p":"H","s":"Hong Kong","c":7.5,"y":1.61,"f":1.62},
{"p":"H","s":"GII.P16/GII.4","c":0.00343,"y":0.1,"f":0.1},{"p":"H","s":"GII.P16/GII.4","c":0.0103,"y":0.15,"f":0.17},{"p":"H","s":"GII.P16/GII.4","c":0.0309,"y":0.32,"f":0.32},{"p":"H","s":"GII.P16/GII.4","c":0.0926,"y":0.6,"f":0.58},{"p":"H","s":"GII.P16/GII.4","c":0.278,"y":1.05,"f":1.02},{"p":"H","s":"GII.P16/GII.4","c":0.833,"y":1.6,"f":1.55},{"p":"H","s":"GII.P16/GII.4","c":2.5,"y":2.05,"f":2.0},{"p":"H","s":"GII.P16/GII.4","c":7.5,"y":2.33,"f":2.28},
{"p":"I","s":"US 95/96","c":0.00343,"y":0.07,"f":0.07},{"p":"I","s":"US 95/96","c":0.0103,"y":0.07,"f":0.07},{"p":"I","s":"US 95/96","c":0.0309,"y":0.07,"f":0.07},{"p":"I","s":"US 95/96","c":0.0926,"y":0.07,"f":0.075},{"p":"I","s":"US 95/96","c":0.278,"y":0.08,"f":0.085},{"p":"I","s":"US 95/96","c":0.833,"y":0.1,"f":0.11},{"p":"I","s":"US 95/96","c":2.5,"y":0.17,"f":0.17},{"p":"I","s":"US 95/96","c":7.5,"y":0.28,"f":0.28},
{"p":"I","s":"Farmington hills","c":0.00343,"y":0.07,"f":0.07},{"p":"I","s":"Farmington hills","c":0.0103,"y":0.07,"f":0.07},{"p":"I","s":"Farmington hills","c":0.0309,"y":0.08,"f":0.075},{"p":"I","s":"Farmington hills","c":0.0926,"y":0.08,"f":0.08},{"p":"I","s":"Farmington hills","c":0.278,"y":0.09,"f":0.09},{"p":"I","s":"Farmington hills","c":0.833,"y":0.12,"f":0.12},{"p":"I","s":"Farmington hills","c":2.5,"y":0.2,"f":0.18},{"p":"I","s":"Farmington hills","c":7.5,"y":0.32,"f":0.3},
{"p":"I","s":"Hunter","c":0.00343,"y":0.07,"f":0.07},{"p":"I","s":"Hunter","c":0.0103,"y":0.08,"f":0.08},{"p":"I","s":"Hunter","c":0.0309,"y":0.09,"f":0.09},{"p":"I","s":"Hunter","c":0.0926,"y":0.12,"f":0.12},{"p":"I","s":"Hunter","c":0.278,"y":0.2,"f":0.18},{"p":"I","s":"Hunter","c":0.833,"y":0.42,"f":0.32},{"p":"I","s":"Hunter","c":2.5,"y":0.67,"f":0.6},{"p":"I","s":"Hunter","c":7.5,"y":0.95,"f":1.02},
{"p":"I","s":"2006a","c":0.00343,"y":0.07,"f":0.07},{"p":"I","s":"2006a","c":0.0103,"y":0.1,"f":0.09},{"p":"I","s":"2006a","c":0.0309,"y":0.12,"f":0.12},{"p":"I","s":"2006a","c":0.0926,"y":0.2,"f":0.2},{"p":"I","s":"2006a","c":0.278,"y":0.52,"f":0.38},{"p":"I","s":"2006a","c":0.833,"y":0.93,"f":0.75},{"p":"I","s":"2006a","c":2.5,"y":1.25,"f":1.25},{"p":"I","s":"2006a","c":7.5,"y":1.55,"f":1.78},
{"p":"I","s":"2008","c":0.00343,"y":0.06,"f":0.07},{"p":"I","s":"2008","c":0.0103,"y":0.08,"f":0.08},{"p":"I","s":"2008","c":0.0309,"y":0.1,"f":0.09},{"p":"I","s":"2008","c":0.0926,"y":0.12,"f":0.12},{"p":"I","s":"2008","c":0.278,"y":0.18,"f":0.18},{"p":"I","s":"2008","c":0.833,"y":0.3,"f":0.32},{"p":"I","s":"2008","c":2.5,"y":0.53,"f":0.6},{"p":"I","s":"2008","c":7.5,"y":1.04,"f":1.03},
{"p":"I","s":"New Orleans","c":0.00343,"y":0.1,"f":0.08},{"p":"I","s":"New Orleans","c":0.0103,"y":0.13,"f":0.11},{"p":"I","s":"New Orleans","c":0.0309,"y":0.2,"f":0.17},{"p":"I","s":"New Orleans","c":0.0926,"y":0.37,"f":0.32},{"p":"I","s":"New Orleans","c":0.278,"y":0.82,"f":0.63},{"p":"I","s":"New Orleans","c":0.833,"y":1.25,"f":1.12},{"p":"I","s":"New Orleans","c":2.5,"y":1.48,"f":1.65},{"p":"I","s":"New Orleans","c":7.5,"y":1.73,"f":2.08},
{"p":"I","s":"sydney","c":0.00343,"y":0.1,"f":0.11},{"p":"I","s":"sydney","c":0.0103,"y":0.12,"f":0.2},{"p":"I","s":"sydney","c":0.0309,"y":0.27,"f":0.38},{"p":"I","s":"sydney","c":0.0926,"y":0.5,"f":0.75},{"p":"I","s":"sydney","c":0.278,"y":1.63,"f":1.3},{"p":"I","s":"sydney","c":0.833,"y":2.07,"f":1.83},{"p":"I","s":"sydney","c":2.5,"y":2.3,"f":2.2},{"p":"I","s":"sydney","c":7.5,"y":2.43,"f":2.4},
{"p":"I","s":"Hong Kong","c":0.00343,"y":0.08,"f":0.08},{"p":"I","s":"Hong Kong","c":0.0103,"y":0.12,"f":0.11},{"p":"I","s":"Hong Kong","c":0.0309,"y":0.18,"f":0.17},{"p":"I","s":"Hong Kong","c":0.0926,"y":0.23,"f":0.33},{"p":"I","s":"Hong Kong","c":0.278,"y":0.65,"f":0.65},{"p":"I","s":"Hong Kong","c":0.833,"y":1.2,"f":1.15},{"p":"I","s":"Hong Kong","c":2.5,"y":1.67,"f":1.68},{"p":"I","s":"Hong Kong","c":7.5,"y":2.1,"f":2.1},
{"p":"I","s":"GII.P16/GII.4","c":0.00343,"y":0.1,"f":0.18},{"p":"I","s":"GII.P16/GII.4","c":0.0103,"y":0.23,"f":0.35},{"p":"I","s":"GII.P16/GII.4","c":0.0309,"y":0.4,"f":0.7},{"p":"I","s":"GII.P16/GII.4","c":0.0926,"y":1.22,"f":1.2},{"p":"I","s":"GII.P16/GII.4","c":0.278,"y":1.88,"f":1.75},{"p":"I","s":"GII.P16/GII.4","c":0.833,"y":2.28,"f":2.17},{"p":"I","s":"GII.P16/GII.4","c":2.5,"y":2.52,"f":2.4},{"p":"I","s":"GII.P16/GII.4","c":7.5,"y":2.45,"f":2.48}
]},
"spacing": 226,
"bounds": "flush",
"resolve": {"scale": {"color": "independent", "stroke": "independent", "fill": "independent", "shape": "independent"}},
"vconcat": [
{"hconcat": [
{"title": {"text": "A", "dx": -32, "offset": 0}, "width": 186, "height": 155, "transform": [{"filter": "datum.p === 'A'"}],
 "encoding": {"x": {"field": "c", "type": "quantitative", "scale": {"type": "log", "domain": [0.001, 10], "nice": false}, "axis": {"title": "VLP Concentration (µg/ml)", "values": [0.001,0.002,0.003,0.004,0.005,0.006,0.007,0.008,0.009,0.01,0.02,0.03,0.04,0.05,0.06,0.07,0.08,0.09,0.1,0.2,0.3,0.4,0.5,0.6,0.7,0.8,0.9,1,2,3,4,5,6,7,8,9,10], "labelExpr": "datum.value === 0.001 ? '10⁻³' : datum.value === 0.01 ? '10⁻²' : datum.value === 0.1 ? '10⁻¹' : datum.value === 1 ? '10⁰' : datum.value === 10 ? '10¹' : ''", "tickSize": {"condition": {"test": "indexof([0.001,0.01,0.1,1,10], datum.value) >= 0", "value": 4}, "value": 2}}}},
 "layer": [
  {"mark": {"type": "line", "strokeWidth": 1.2, "interpolate": "monotone"},
   "encoding": {"y": {"field": "f", "type": "quantitative", "scale": {"domain": [0, 3], "nice": false}, "axis": {"title": "OD", "values": [0,1,2,3], "format": "d"}},
    "color": {"field": "s", "type": "nominal", "scale": {"domain": ["US 95/96","Farmington hills","Hunter","2006a","2008","New Orleans","sydney","Hong Kong","GII.P16/GII.4","~"], "range": ["#F03CC8","#B03FE0","#3C8CF0","#2EE6B4","#19E019","#7F7F7F","#FF9E3D","#F57A7A","#8C7A2E","#ffffff"]},
     "legend": {"values": ["US 95/96","Farmington hills","Hunter","2006a","2008","New Orleans","sydney","Hong Kong","GII.P16/GII.4"], "title": null, "orient": "none", "legendX": 1, "legendY": -3, "symbolType": "stroke", "symbolSize": 64, "labelOffset": 2.5, "rowPadding": 0.3}}}},
  {"mark": {"type": "point", "size": 28, "strokeWidth": 1.2, "opacity": 1},
   "encoding": {"y": {"field": "y", "type": "quantitative", "axis": {"title": "OD", "values": [0,1,2,3], "format": "d"}},
    "stroke": {"field": "s", "type": "nominal", "scale": {"domain": ["US 95/96","Farmington hills","Hunter","2006a","2008","New Orleans","sydney","Hong Kong","GII.P16/GII.4"], "range": ["#F03CC8","#B03FE0","#3C8CF0","#2EE6B4","#19E019","#7F7F7F","#FF9E3D","#F57A7A","#8C7A2E"]}, "legend": {"title": null, "orient": "none", "legendX": 2.35, "legendY": -3.55, "symbolSize": 28, "labelOpacity": 0, "labelExpr": "' '", "rowPadding": -0.8}},
    "fill": {"field": "s", "type": "nominal", "scale": {"domain": ["US 95/96","Farmington hills","Hunter","2006a","2008","New Orleans","sydney","Hong Kong","GII.P16/GII.4"], "range": ["#F03CC8","#B03FE0","#3C8CF0","#2EE6B4","transparent","transparent","transparent","transparent","transparent"]}, "legend": {"title": null, "orient": "none", "legendX": 2.35, "legendY": -3.55, "symbolSize": 28, "labelOpacity": 0, "labelExpr": "' '", "rowPadding": -0.8}},
    "shape": {"field": "s", "type": "nominal", "scale": {"domain": ["US 95/96","Farmington hills","Hunter","2006a","2008","New Orleans","sydney","Hong Kong","GII.P16/GII.4"], "range": ["circle","square","triangle-down","M0,-1V1M-0.85,-0.5L0.85,0.5M-0.85,0.5L0.85,-0.5","circle","square","triangle-up","diamond","triangle-down"]}, "legend": {"title": null, "orient": "none", "legendX": 2.35, "legendY": -3.55, "symbolSize": 28, "labelOpacity": 0, "labelExpr": "' '", "rowPadding": -0.8}}}}
 ]},
{"hconcat": [
{"title": {"text": "B", "dx": -36, "offset": 0}, "width": 186, "height": 155, "transform": [{"filter": "datum.p === 'B'"}],
 "encoding": {"x": {"field": "c", "type": "quantitative", "scale": {"type": "log", "domain": [0.001, 10], "nice": false}, "axis": {"title": "VLP Concentration (µg/ml)", "values": [0.001,0.002,0.003,0.004,0.005,0.006,0.007,0.008,0.009,0.01,0.02,0.03,0.04,0.05,0.06,0.07,0.08,0.09,0.1,0.2,0.3,0.4,0.5,0.6,0.7,0.8,0.9,1,2,3,4,5,6,7,8,9,10], "labelExpr": "datum.value === 0.001 ? '10⁻³' : datum.value === 0.01 ? '10⁻²' : datum.value === 0.1 ? '10⁻¹' : datum.value === 1 ? '10⁰' : datum.value === 10 ? '10¹' : ''", "tickSize": {"condition": {"test": "indexof([0.001,0.01,0.1,1,10], datum.value) >= 0", "value": 4}, "value": 2}}}},
 "layer": [
  {"mark": {"type": "line", "strokeWidth": 1.2, "interpolate": "monotone"},
   "encoding": {"y": {"field": "f", "type": "quantitative", "scale": {"domain": [0, 2], "nice": false}, "axis": {"title": "OD", "values": [0,0.5,1,1.5,2], "format": ".1f"}},
    "color": {"field": "s", "type": "nominal", "scale": {"domain": ["US 95/96","Farmington hills","Hunter","2006a","2008","New Orleans","sydney","Hong Kong","GII.P16/GII.4","~"], "range": ["#F03CC8","#B03FE0","#3C8CF0","#2EE6B4","#19E019","#7F7F7F","#FF9E3D","#F57A7A","#8C7A2E","#ffffff"]},
     "legend": {"values": ["US 95/96","Farmington hills","Hunter","2006a","2008","New Orleans","sydney","Hong Kong","GII.P16/GII.4"], "title": null, "orient": "none", "legendX": 1, "legendY": -3, "symbolType": "stroke", "symbolSize": 64, "labelOffset": 2.5, "rowPadding": 0.3}}}},
  {"mark": {"type": "point", "size": 28, "strokeWidth": 1.2, "opacity": 1},
   "encoding": {"y": {"field": "y", "type": "quantitative", "axis": {"title": "OD", "values": [0,0.5,1,1.5,2], "format": ".1f"}},
    "stroke": {"field": "s", "type": "nominal", "scale": {"domain": ["US 95/96","Farmington hills","Hunter","2006a","2008","New Orleans","sydney","Hong Kong","GII.P16/GII.4"], "range": ["#F03CC8","#B03FE0","#3C8CF0","#2EE6B4","#19E019","#7F7F7F","#FF9E3D","#F57A7A","#8C7A2E"]}, "legend": {"title": null, "orient": "none", "legendX": 2.35, "legendY": -3.55, "symbolSize": 28, "labelOpacity": 0, "labelExpr": "' '", "rowPadding": -0.8}},
    "fill": {"field": "s", "type": "nominal", "scale": {"domain": ["US 95/96","Farmington hills","Hunter","2006a","2008","New Orleans","sydney","Hong Kong","GII.P16/GII.4"], "range": ["#F03CC8","#B03FE0","#3C8CF0","#2EE6B4","transparent","transparent","transparent","transparent","transparent"]}, "legend": {"title": null, "orient": "none", "legendX": 2.35, "legendY": -3.55, "symbolSize": 28, "labelOpacity": 0, "labelExpr": "' '", "rowPadding": -0.8}},
    "shape": {"field": "s", "type": "nominal", "scale": {"domain": ["US 95/96","Farmington hills","Hunter","2006a","2008","New Orleans","sydney","Hong Kong","GII.P16/GII.4"], "range": ["circle","square","triangle-down","M0,-1V1M-0.85,-0.5L0.85,0.5M-0.85,0.5L0.85,-0.5","circle","square","triangle-up","diamond","triangle-down"]}, "legend": {"title": null, "orient": "none", "legendX": 2.35, "legendY": -3.55, "symbolSize": 28, "labelOpacity": 0, "labelExpr": "' '", "rowPadding": -0.8}}}}
 ]},
{"title": {"text": "C", "dx": -32, "offset": 0}, "width": 186, "height": 155, "transform": [{"filter": "datum.p === 'C'"}],
 "encoding": {"x": {"field": "c", "type": "quantitative", "scale": {"type": "log", "domain": [0.001, 10], "nice": false}, "axis": {"title": "VLP Concentration (µg/ml)", "values": [0.001,0.002,0.003,0.004,0.005,0.006,0.007,0.008,0.009,0.01,0.02,0.03,0.04,0.05,0.06,0.07,0.08,0.09,0.1,0.2,0.3,0.4,0.5,0.6,0.7,0.8,0.9,1,2,3,4,5,6,7,8,9,10], "labelExpr": "datum.value === 0.001 ? '10⁻³' : datum.value === 0.01 ? '10⁻²' : datum.value === 0.1 ? '10⁻¹' : datum.value === 1 ? '10⁰' : datum.value === 10 ? '10¹' : ''", "tickSize": {"condition": {"test": "indexof([0.001,0.01,0.1,1,10], datum.value) >= 0", "value": 4}, "value": 2}}}},
 "layer": [
  {"mark": {"type": "line", "strokeWidth": 1.2, "interpolate": "monotone"},
   "encoding": {"y": {"field": "f", "type": "quantitative", "scale": {"domain": [0, 3], "nice": false}, "axis": {"title": "OD", "values": [0,1,2,3], "format": "d"}},
    "color": {"field": "s", "type": "nominal", "scale": {"domain": ["US 95/96","Farmington hills","Hunter","2006a","2008","New Orleans","sydney","Hong Kong","GII.P16/GII.4","~"], "range": ["#F03CC8","#B03FE0","#3C8CF0","#2EE6B4","#19E019","#7F7F7F","#FF9E3D","#F57A7A","#8C7A2E","#ffffff"]},
     "legend": {"values": ["US 95/96","Farmington hills","Hunter","2006a","2008","New Orleans","sydney","Hong Kong","GII.P16/GII.4"], "title": null, "orient": "none", "legendX": 1, "legendY": -3, "symbolType": "stroke", "symbolSize": 64, "labelOffset": 2.5, "rowPadding": 0.3}}}},
  {"mark": {"type": "point", "size": 28, "strokeWidth": 1.2, "opacity": 1},
   "encoding": {"y": {"field": "y", "type": "quantitative", "axis": {"title": "OD", "values": [0,1,2,3], "format": "d"}},
    "stroke": {"field": "s", "type": "nominal", "scale": {"domain": ["US 95/96","Farmington hills","Hunter","2006a","2008","New Orleans","sydney","Hong Kong","GII.P16/GII.4"], "range": ["#F03CC8","#B03FE0","#3C8CF0","#2EE6B4","#19E019","#7F7F7F","#FF9E3D","#F57A7A","#8C7A2E"]}, "legend": {"title": null, "orient": "none", "legendX": 2.35, "legendY": -3.55, "symbolSize": 28, "labelOpacity": 0, "labelExpr": "' '", "rowPadding": -0.8}},
    "fill": {"field": "s", "type": "nominal", "scale": {"domain": ["US 95/96","Farmington hills","Hunter","2006a","2008","New Orleans","sydney","Hong Kong","GII.P16/GII.4"], "range": ["#F03CC8","#B03FE0","#3C8CF0","#2EE6B4","transparent","transparent","transparent","transparent","transparent"]}, "legend": {"title": null, "orient": "none", "legendX": 2.35, "legendY": -3.55, "symbolSize": 28, "labelOpacity": 0, "labelExpr": "' '", "rowPadding": -0.8}},
    "shape": {"field": "s", "type": "nominal", "scale": {"domain": ["US 95/96","Farmington hills","Hunter","2006a","2008","New Orleans","sydney","Hong Kong","GII.P16/GII.4"], "range": ["circle","square","triangle-down","M0,-1V1M-0.85,-0.5L0.85,0.5M-0.85,0.5L0.85,-0.5","circle","square","triangle-up","diamond","triangle-down"]}, "legend": {"title": null, "orient": "none", "legendX": 2.35, "legendY": -3.55, "symbolSize": 28, "labelOpacity": 0, "labelExpr": "' '", "rowPadding": -0.8}}}}
 ]}
], "spacing": 46, "bounds": "flush", "resolve": {"scale": {"color": "independent", "stroke": "independent", "fill": "independent", "shape": "independent"}}}
], "spacing": 56, "bounds": "flush", "resolve": {"scale": {"color": "independent", "stroke": "independent", "fill": "independent", "shape": "independent"}}},
{"vconcat": [
{"hconcat": [
{"title": {"text": "D", "dx": -31, "offset": 5}, "width": 186, "height": 155, "transform": [{"filter": "datum.p === 'D'"}],
 "encoding": {"x": {"field": "c", "type": "quantitative", "scale": {"type": "log", "domain": [0.001, 10], "nice": false}, "axis": {"title": "VLP Concentration (µg/ml)", "values": [0.001,0.002,0.003,0.004,0.005,0.006,0.007,0.008,0.009,0.01,0.02,0.03,0.04,0.05,0.06,0.07,0.08,0.09,0.1,0.2,0.3,0.4,0.5,0.6,0.7,0.8,0.9,1,2,3,4,5,6,7,8,9,10], "labelExpr": "datum.value === 0.001 ? '10⁻³' : datum.value === 0.01 ? '10⁻²' : datum.value === 0.1 ? '10⁻¹' : datum.value === 1 ? '10⁰' : datum.value === 10 ? '10¹' : ''", "tickSize": {"condition": {"test": "indexof([0.001,0.01,0.1,1,10], datum.value) >= 0", "value": 4}, "value": 2}}}},
 "layer": [
  {"mark": {"type": "line", "strokeWidth": 1.2, "interpolate": "monotone"},
   "encoding": {"y": {"field": "f", "type": "quantitative", "scale": {"domain": [0, 3], "nice": false}, "axis": {"title": "OD", "values": [0,1,2,3], "format": "d"}},
    "color": {"field": "s", "type": "nominal", "scale": {"domain": ["US 95/96","Farmington hills","Hunter","2006a","2008","New Orleans","sydney","Hong Kong","GII.P16/GII.4","~"], "range": ["#F03CC8","#B03FE0","#3C8CF0","#2EE6B4","#19E019","#7F7F7F","#FF9E3D","#F57A7A","#8C7A2E","#ffffff"]},
     "legend": {"values": ["US 95/96","Farmington hills","Hunter","2006a","2008","New Orleans","sydney","Hong Kong","GII.P16/GII.4"], "title": null, "orient": "none", "legendX": 1, "legendY": -3, "symbolType": "stroke", "symbolSize": 64, "labelOffset": 2.5, "rowPadding": 0.3}}}},
  {"mark": {"type": "point", "size": 28, "strokeWidth": 1.2, "opacity": 1},
   "encoding": {"y": {"field": "y", "type": "quantitative", "axis": {"title": "OD", "values": [0,1,2,3], "format": "d"}},
    "stroke": {"field": "s", "type": "nominal", "scale": {"domain": ["US 95/96","Farmington hills","Hunter","2006a","2008","New Orleans","sydney","Hong Kong","GII.P16/GII.4"], "range": ["#F03CC8","#B03FE0","#3C8CF0","#2EE6B4","#19E019","#7F7F7F","#FF9E3D","#F57A7A","#8C7A2E"]}, "legend": {"title": null, "orient": "none", "legendX": 2.35, "legendY": -3.55, "symbolSize": 28, "labelOpacity": 0, "labelExpr": "' '", "rowPadding": -0.8}},
    "fill": {"field": "s", "type": "nominal", "scale": {"domain": ["US 95/96","Farmington hills","Hunter","2006a","2008","New Orleans","sydney","Hong Kong","GII.P16/GII.4"], "range": ["#F03CC8","#B03FE0","#3C8CF0","#2EE6B4","transparent","transparent","transparent","transparent","transparent"]}, "legend": {"title": null, "orient": "none", "legendX": 2.35, "legendY": -3.55, "symbolSize": 28, "labelOpacity": 0, "labelExpr": "' '", "rowPadding": -0.8}},
    "shape": {"field": "s", "type": "nominal", "scale": {"domain": ["US 95/96","Farmington hills","Hunter","2006a","2008","New Orleans","sydney","Hong Kong","GII.P16/GII.4"], "range": ["circle","square","triangle-down","M0,-1V1M-0.85,-0.5L0.85,0.5M-0.85,0.5L0.85,-0.5","circle","square","triangle-up","diamond","triangle-down"]}, "legend": {"title": null, "orient": "none", "legendX": 2.35, "legendY": -3.55, "symbolSize": 28, "labelOpacity": 0, "labelExpr": "' '", "rowPadding": -0.8}}}}
 ]},
{"hconcat": [
{"title": {"text": "E", "dx": -29, "offset": 5}, "width": 186, "height": 155, "transform": [{"filter": "datum.p === 'E'"}],
 "encoding": {"x": {"field": "c", "type": "quantitative", "scale": {"type": "log", "domain": [0.001, 10], "nice": false}, "axis": {"title": "VLP Concentration (µg/ml)", "values": [0.001,0.002,0.003,0.004,0.005,0.006,0.007,0.008,0.009,0.01,0.02,0.03,0.04,0.05,0.06,0.07,0.08,0.09,0.1,0.2,0.3,0.4,0.5,0.6,0.7,0.8,0.9,1,2,3,4,5,6,7,8,9,10], "labelExpr": "datum.value === 0.001 ? '10⁻³' : datum.value === 0.01 ? '10⁻²' : datum.value === 0.1 ? '10⁻¹' : datum.value === 1 ? '10⁰' : datum.value === 10 ? '10¹' : ''", "tickSize": {"condition": {"test": "indexof([0.001,0.01,0.1,1,10], datum.value) >= 0", "value": 4}, "value": 2}}}},
 "layer": [
  {"mark": {"type": "line", "strokeWidth": 1.2, "interpolate": "monotone"},
   "encoding": {"y": {"field": "f", "type": "quantitative", "scale": {"domain": [0, 1.5], "nice": false}, "axis": {"title": "OD", "values": [0,0.5,1,1.5], "format": ".1f"}},
    "color": {"field": "s", "type": "nominal", "scale": {"domain": ["US 95/96","Farmington hills","Hunter","2006a","2008","New Orleans","sydney","Hong Kong","GII.P16/GII.4","~"], "range": ["#F03CC8","#B03FE0","#3C8CF0","#2EE6B4","#19E019","#7F7F7F","#FF9E3D","#F57A7A","#8C7A2E","#ffffff"]},
     "legend": {"values": ["US 95/96","Farmington hills","Hunter","2006a","2008","New Orleans","sydney","Hong Kong","GII.P16/GII.4"], "title": null, "orient": "none", "legendX": 1, "legendY": -3, "symbolType": "stroke", "symbolSize": 64, "labelOffset": 2.5, "rowPadding": 0.3}}}},
  {"mark": {"type": "point", "size": 28, "strokeWidth": 1.2, "opacity": 1},
   "encoding": {"y": {"field": "y", "type": "quantitative", "axis": {"title": "OD", "values": [0,0.5,1,1.5], "format": ".1f"}},
    "stroke": {"field": "s", "type": "nominal", "scale": {"domain": ["US 95/96","Farmington hills","Hunter","2006a","2008","New Orleans","sydney","Hong Kong","GII.P16/GII.4"], "range": ["#F03CC8","#B03FE0","#3C8CF0","#2EE6B4","#19E019","#7F7F7F","#FF9E3D","#F57A7A","#8C7A2E"]}, "legend": {"title": null, "orient": "none", "legendX": 2.35, "legendY": -3.55, "symbolSize": 28, "labelOpacity": 0, "labelExpr": "' '", "rowPadding": -0.8}},
    "fill": {"field": "s", "type": "nominal", "scale": {"domain": ["US 95/96","Farmington hills","Hunter","2006a","2008","New Orleans","sydney","Hong Kong","GII.P16/GII.4"], "range": ["#F03CC8","#B03FE0","#3C8CF0","#2EE6B4","transparent","transparent","transparent","transparent","transparent"]}, "legend": {"title": null, "orient": "none", "legendX": 2.35, "legendY": -3.55, "symbolSize": 28, "labelOpacity": 0, "labelExpr": "' '", "rowPadding": -0.8}},
    "shape": {"field": "s", "type": "nominal", "scale": {"domain": ["US 95/96","Farmington hills","Hunter","2006a","2008","New Orleans","sydney","Hong Kong","GII.P16/GII.4"], "range": ["circle","square","triangle-down","M0,-1V1M-0.85,-0.5L0.85,0.5M-0.85,0.5L0.85,-0.5","circle","square","triangle-up","diamond","triangle-down"]}, "legend": {"title": null, "orient": "none", "legendX": 2.35, "legendY": -3.55, "symbolSize": 28, "labelOpacity": 0, "labelExpr": "' '", "rowPadding": -0.8}}}}
 ]},
{"title": {"text": "F", "dx": -26, "offset": 5}, "width": 186, "height": 155, "transform": [{"filter": "datum.p === 'F'"}],
 "encoding": {"x": {"field": "c", "type": "quantitative", "scale": {"type": "log", "domain": [0.001, 10], "nice": false}, "axis": {"title": "VLP Concentration (µg/ml)", "values": [0.001,0.002,0.003,0.004,0.005,0.006,0.007,0.008,0.009,0.01,0.02,0.03,0.04,0.05,0.06,0.07,0.08,0.09,0.1,0.2,0.3,0.4,0.5,0.6,0.7,0.8,0.9,1,2,3,4,5,6,7,8,9,10], "labelExpr": "datum.value === 0.001 ? '10⁻³' : datum.value === 0.01 ? '10⁻²' : datum.value === 0.1 ? '10⁻¹' : datum.value === 1 ? '10⁰' : datum.value === 10 ? '10¹' : ''", "tickSize": {"condition": {"test": "indexof([0.001,0.01,0.1,1,10], datum.value) >= 0", "value": 4}, "value": 2}}}},
 "layer": [
  {"mark": {"type": "line", "strokeWidth": 1.2, "interpolate": "monotone"},
   "encoding": {"y": {"field": "f", "type": "quantitative", "scale": {"domain": [0, 0.8], "nice": false}, "axis": {"title": "OD", "values": [0,0.2,0.4,0.6,0.8], "format": ".1f"}},
    "color": {"field": "s", "type": "nominal", "scale": {"domain": ["US 95/96","Farmington hills","Hunter","2006a","2008","New Orleans","sydney","Hong Kong","GII.P16/GII.4","~"], "range": ["#F03CC8","#B03FE0","#3C8CF0","#2EE6B4","#19E019","#7F7F7F","#FF9E3D","#F57A7A","#8C7A2E","#ffffff"]},
     "legend": {"values": ["US 95/96","Farmington hills","Hunter","2006a","2008","New Orleans","sydney","Hong Kong","GII.P16/GII.4"], "title": null, "orient": "none", "legendX": 1, "legendY": -3, "symbolType": "stroke", "symbolSize": 64, "labelOffset": 2.5, "rowPadding": 0.3}}}},
  {"mark": {"type": "point", "size": 28, "strokeWidth": 1.2, "opacity": 1},
   "encoding": {"y": {"field": "y", "type": "quantitative", "axis": {"title": "OD", "values": [0,0.2,0.4,0.6,0.8], "format": ".1f"}},
    "stroke": {"field": "s", "type": "nominal", "scale": {"domain": ["US 95/96","Farmington hills","Hunter","2006a","2008","New Orleans","sydney","Hong Kong","GII.P16/GII.4"], "range": ["#F03CC8","#B03FE0","#3C8CF0","#2EE6B4","#19E019","#7F7F7F","#FF9E3D","#F57A7A","#8C7A2E"]}, "legend": {"title": null, "orient": "none", "legendX": 2.35, "legendY": -3.55, "symbolSize": 28, "labelOpacity": 0, "labelExpr": "' '", "rowPadding": -0.8}},
    "fill": {"field": "s", "type": "nominal", "scale": {"domain": ["US 95/96","Farmington hills","Hunter","2006a","2008","New Orleans","sydney","Hong Kong","GII.P16/GII.4"], "range": ["#F03CC8","#B03FE0","#3C8CF0","#2EE6B4","transparent","transparent","transparent","transparent","transparent"]}, "legend": {"title": null, "orient": "none", "legendX": 2.35, "legendY": -3.55, "symbolSize": 28, "labelOpacity": 0, "labelExpr": "' '", "rowPadding": -0.8}},
    "shape": {"field": "s", "type": "nominal", "scale": {"domain": ["US 95/96","Farmington hills","Hunter","2006a","2008","New Orleans","sydney","Hong Kong","GII.P16/GII.4"], "range": ["circle","square","triangle-down","M0,-1V1M-0.85,-0.5L0.85,0.5M-0.85,0.5L0.85,-0.5","circle","square","triangle-up","diamond","triangle-down"]}, "legend": {"title": null, "orient": "none", "legendX": 2.35, "legendY": -3.55, "symbolSize": 28, "labelOpacity": 0, "labelExpr": "' '", "rowPadding": -0.8}}}}
 ]}
], "spacing": 46, "bounds": "flush", "resolve": {"scale": {"color": "independent", "stroke": "independent", "fill": "independent", "shape": "independent"}}}
], "spacing": 56, "bounds": "flush", "resolve": {"scale": {"color": "independent", "stroke": "independent", "fill": "independent", "shape": "independent"}}},
{"hconcat": [
{"title": {"text": "G", "dx": -31, "offset": 5}, "width": 186, "height": 155, "transform": [{"filter": "datum.p === 'G'"}],
 "encoding": {"x": {"field": "c", "type": "quantitative", "scale": {"type": "log", "domain": [0.001, 10], "nice": false}, "axis": {"title": "VLP Concentration (µg/ml)", "values": [0.001,0.002,0.003,0.004,0.005,0.006,0.007,0.008,0.009,0.01,0.02,0.03,0.04,0.05,0.06,0.07,0.08,0.09,0.1,0.2,0.3,0.4,0.5,0.6,0.7,0.8,0.9,1,2,3,4,5,6,7,8,9,10], "labelExpr": "datum.value === 0.001 ? '10⁻³' : datum.value === 0.01 ? '10⁻²' : datum.value === 0.1 ? '10⁻¹' : datum.value === 1 ? '10⁰' : datum.value === 10 ? '10¹' : ''", "tickSize": {"condition": {"test": "indexof([0.001,0.01,0.1,1,10], datum.value) >= 0", "value": 4}, "value": 2}}}},
 "layer": [
  {"mark": {"type": "line", "strokeWidth": 1.2, "interpolate": "monotone"},
   "encoding": {"y": {"field": "f", "type": "quantitative", "scale": {"domain": [0, 2.5], "nice": false}, "axis": {"title": "OD", "values": [0,0.5,1,1.5,2,2.5], "format": ".1f"}},
    "color": {"field": "s", "type": "nominal", "scale": {"domain": ["US 95/96","Farmington hills","Hunter","2006a","2008","New Orleans","sydney","Hong Kong","GII.P16/GII.4","~"], "range": ["#F03CC8","#B03FE0","#3C8CF0","#2EE6B4","#19E019","#7F7F7F","#FF9E3D","#F57A7A","#8C7A2E","#ffffff"]},
     "legend": {"values": ["US 95/96","Farmington hills","Hunter","2006a","2008","New Orleans","sydney","Hong Kong","GII.P16/GII.4"], "title": null, "orient": "none", "legendX": 1, "legendY": -3, "symbolType": "stroke", "symbolSize": 64, "labelOffset": 2.5, "rowPadding": 0.3}}}},
  {"mark": {"type": "point", "size": 28, "strokeWidth": 1.2, "opacity": 1},
   "encoding": {"y": {"field": "y", "type": "quantitative", "axis": {"title": "OD", "values": [0,0.5,1,1.5,2,2.5], "format": ".1f"}},
    "stroke": {"field": "s", "type": "nominal", "scale": {"domain": ["US 95/96","Farmington hills","Hunter","2006a","2008","New Orleans","sydney","Hong Kong","GII.P16/GII.4"], "range": ["#F03CC8","#B03FE0","#3C8CF0","#2EE6B4","#19E019","#7F7F7F","#FF9E3D","#F57A7A","#8C7A2E"]}, "legend": {"title": null, "orient": "none", "legendX": 2.35, "legendY": -3.55, "symbolSize": 28, "labelOpacity": 0, "labelExpr": "' '", "rowPadding": -0.8}},
    "fill": {"field": "s", "type": "nominal", "scale": {"domain": ["US 95/96","Farmington hills","Hunter","2006a","2008","New Orleans","sydney","Hong Kong","GII.P16/GII.4"], "range": ["#F03CC8","#B03FE0","#3C8CF0","#2EE6B4","transparent","transparent","transparent","transparent","transparent"]}, "legend": {"title": null, "orient": "none", "legendX": 2.35, "legendY": -3.55, "symbolSize": 28, "labelOpacity": 0, "labelExpr": "' '", "rowPadding": -0.8}},
    "shape": {"field": "s", "type": "nominal", "scale": {"domain": ["US 95/96","Farmington hills","Hunter","2006a","2008","New Orleans","sydney","Hong Kong","GII.P16/GII.4"], "range": ["circle","square","triangle-down","M0,-1V1M-0.85,-0.5L0.85,0.5M-0.85,0.5L0.85,-0.5","circle","square","triangle-up","diamond","triangle-down"]}, "legend": {"title": null, "orient": "none", "legendX": 2.35, "legendY": -3.55, "symbolSize": 28, "labelOpacity": 0, "labelExpr": "' '", "rowPadding": -0.8}}}}
 ]},
{"hconcat": [
{"title": {"text": "H", "dx": -37, "offset": 5}, "width": 186, "height": 155, "transform": [{"filter": "datum.p === 'H'"}],
 "encoding": {"x": {"field": "c", "type": "quantitative", "scale": {"type": "log", "domain": [0.001, 10], "nice": false}, "axis": {"title": "VLP Concentration (µg/ml)", "values": [0.001,0.002,0.003,0.004,0.005,0.006,0.007,0.008,0.009,0.01,0.02,0.03,0.04,0.05,0.06,0.07,0.08,0.09,0.1,0.2,0.3,0.4,0.5,0.6,0.7,0.8,0.9,1,2,3,4,5,6,7,8,9,10], "labelExpr": "datum.value === 0.001 ? '10⁻³' : datum.value === 0.01 ? '10⁻²' : datum.value === 0.1 ? '10⁻¹' : datum.value === 1 ? '10⁰' : datum.value === 10 ? '10¹' : ''", "tickSize": {"condition": {"test": "indexof([0.001,0.01,0.1,1,10], datum.value) >= 0", "value": 4}, "value": 2}}}},
 "layer": [
  {"mark": {"type": "line", "strokeWidth": 1.2, "interpolate": "monotone"},
   "encoding": {"y": {"field": "f", "type": "quantitative", "scale": {"domain": [0, 2.5], "nice": false}, "axis": {"title": "OD", "values": [0,0.5,1,1.5,2,2.5], "format": ".1f"}},
    "color": {"field": "s", "type": "nominal", "scale": {"domain": ["US 95/96","Farmington hills","Hunter","2006a","2008","New Orleans","sydney","Hong Kong","GII.P16/GII.4","~"], "range": ["#F03CC8","#B03FE0","#3C8CF0","#2EE6B4","#19E019","#7F7F7F","#FF9E3D","#F57A7A","#8C7A2E","#ffffff"]},
     "legend": {"values": ["US 95/96","Farmington hills","Hunter","2006a","2008","New Orleans","sydney","Hong Kong","GII.P16/GII.4"], "title": null, "orient": "none", "legendX": 1, "legendY": -3, "symbolType": "stroke", "symbolSize": 64, "labelOffset": 2.5, "rowPadding": 0.3}}}},
  {"mark": {"type": "point", "size": 28, "strokeWidth": 1.2, "opacity": 1},
   "encoding": {"y": {"field": "y", "type": "quantitative", "axis": {"title": "OD", "values": [0,0.5,1,1.5,2,2.5], "format": ".1f"}},
    "stroke": {"field": "s", "type": "nominal", "scale": {"domain": ["US 95/96","Farmington hills","Hunter","2006a","2008","New Orleans","sydney","Hong Kong","GII.P16/GII.4"], "range": ["#F03CC8","#B03FE0","#3C8CF0","#2EE6B4","#19E019","#7F7F7F","#FF9E3D","#F57A7A","#8C7A2E"]}, "legend": {"title": null, "orient": "none", "legendX": 2.35, "legendY": -3.55, "symbolSize": 28, "labelOpacity": 0, "labelExpr": "' '", "rowPadding": -0.8}},
    "fill": {"field": "s", "type": "nominal", "scale": {"domain": ["US 95/96","Farmington hills","Hunter","2006a","2008","New Orleans","sydney","Hong Kong","GII.P16/GII.4"], "range": ["#F03CC8","#B03FE0","#3C8CF0","#2EE6B4","transparent","transparent","transparent","transparent","transparent"]}, "legend": {"title": null, "orient": "none", "legendX": 2.35, "legendY": -3.55, "symbolSize": 28, "labelOpacity": 0, "labelExpr": "' '", "rowPadding": -0.8}},
    "shape": {"field": "s", "type": "nominal", "scale": {"domain": ["US 95/96","Farmington hills","Hunter","2006a","2008","New Orleans","sydney","Hong Kong","GII.P16/GII.4"], "range": ["circle","square","triangle-down","M0,-1V1M-0.85,-0.5L0.85,0.5M-0.85,0.5L0.85,-0.5","circle","square","triangle-up","diamond","triangle-down"]}, "legend": {"title": null, "orient": "none", "legendX": 2.35, "legendY": -3.55, "symbolSize": 28, "labelOpacity": 0, "labelExpr": "' '", "rowPadding": -0.8}}}}
 ]},
{"title": {"text": "I", "dx": -19, "offset": 5}, "width": 186, "height": 155, "transform": [{"filter": "datum.p === 'I'"}],
 "encoding": {"x": {"field": "c", "type": "quantitative", "scale": {"type": "log", "domain": [0.001, 10], "nice": false}, "axis": {"title": "VLP Concentration (µg/ml)", "values": [0.001,0.002,0.003,0.004,0.005,0.006,0.007,0.008,0.009,0.01,0.02,0.03,0.04,0.05,0.06,0.07,0.08,0.09,0.1,0.2,0.3,0.4,0.5,0.6,0.7,0.8,0.9,1,2,3,4,5,6,7,8,9,10], "labelExpr": "datum.value === 0.001 ? '10⁻³' : datum.value === 0.01 ? '10⁻²' : datum.value === 0.1 ? '10⁻¹' : datum.value === 1 ? '10⁰' : datum.value === 10 ? '10¹' : ''", "tickSize": {"condition": {"test": "indexof([0.001,0.01,0.1,1,10], datum.value) >= 0", "value": 4}, "value": 2}}}},
 "layer": [
  {"mark": {"type": "line", "strokeWidth": 1.2, "interpolate": "monotone"},
   "encoding": {"y": {"field": "f", "type": "quantitative", "scale": {"domain": [0, 3], "nice": false}, "axis": {"title": "OD", "values": [0,1,2,3], "format": "d"}},
    "color": {"field": "s", "type": "nominal", "scale": {"domain": ["US 95/96","Farmington hills","Hunter","2006a","2008","New Orleans","sydney","Hong Kong","GII.P16/GII.4","~"], "range": ["#F03CC8","#B03FE0","#3C8CF0","#2EE6B4","#19E019","#7F7F7F","#FF9E3D","#F57A7A","#8C7A2E","#ffffff"]},
     "legend": {"values": ["US 95/96","Farmington hills","Hunter","2006a","2008","New Orleans","sydney","Hong Kong","GII.P16/GII.4"], "title": null, "orient": "none", "legendX": 1, "legendY": -3, "symbolType": "stroke", "symbolSize": 64, "labelOffset": 2.5, "rowPadding": 0.3}}}},
  {"mark": {"type": "point", "size": 28, "strokeWidth": 1.2, "opacity": 1},
   "encoding": {"y": {"field": "y", "type": "quantitative", "axis": {"title": "OD", "values": [0,1,2,3], "format": "d"}},
    "stroke": {"field": "s", "type": "nominal", "scale": {"domain": ["US 95/96","Farmington hills","Hunter","2006a","2008","New Orleans","sydney","Hong Kong","GII.P16/GII.4"], "range": ["#F03CC8","#B03FE0","#3C8CF0","#2EE6B4","#19E019","#7F7F7F","#FF9E3D","#F57A7A","#8C7A2E"]}, "legend": {"title": null, "orient": "none", "legendX": 2.35, "legendY": -3.55, "symbolSize": 28, "labelOpacity": 0, "labelExpr": "' '", "rowPadding": -0.8}},
    "fill": {"field": "s", "type": "nominal", "scale": {"domain": ["US 95/96","Farmington hills","Hunter","2006a","2008","New Orleans","sydney","Hong Kong","GII.P16/GII.4"], "range": ["#F03CC8","#B03FE0","#3C8CF0","#2EE6B4","transparent","transparent","transparent","transparent","transparent"]}, "legend": {"title": null, "orient": "none", "legendX": 2.35, "legendY": -3.55, "symbolSize": 28, "labelOpacity": 0, "labelExpr": "' '", "rowPadding": -0.8}},
    "shape": {"field": "s", "type": "nominal", "scale": {"domain": ["US 95/96","Farmington hills","Hunter","2006a","2008","New Orleans","sydney","Hong Kong","GII.P16/GII.4"], "range": ["circle","square","triangle-down","M0,-1V1M-0.85,-0.5L0.85,0.5M-0.85,0.5L0.85,-0.5","circle","square","triangle-up","diamond","triangle-down"]}, "legend": {"title": null, "orient": "none", "legendX": 2.35, "legendY": -3.55, "symbolSize": 28, "labelOpacity": 0, "labelExpr": "' '", "rowPadding": -0.8}}}}
 ]}
], "spacing": 46, "bounds": "flush", "resolve": {"scale": {"color": "independent", "stroke": "independent", "fill": "independent", "shape": "independent"}}}
], "spacing": 56, "bounds": "flush", "resolve": {"scale": {"color": "independent", "stroke": "independent", "fill": "independent", "shape": "independent"}}}
], "spacing": 216, "bounds": "flush", "resolve": {"scale": {"color": "independent", "stroke": "independent", "fill": "independent", "shape": "independent"}}}
],
"config": {
 "view": {"stroke": null},
 "font": "Liberation Sans",
 "axis": {"domainColor": "#000", "domainWidth": 1.2, "tickColor": "#000", "tickWidth": 1.2, "tickSize": 4, "labelFont": "Liberation Sans", "labelFontWeight": "bold", "labelFontSize": 9, "labelColor": "#000", "labelPadding": 2, "titleFont": "Liberation Sans", "titleFontWeight": "bold", "titleFontSize": 11, "titleColor": "#000", "grid": false, "labelFlush": false, "labelOverlap": false, "titlePadding": 3},
 "legend": {"labelFont": "Liberation Sans", "labelFontSize": 8.7, "labelColor": "#222", "symbolStrokeWidth": 1.2, "padding": 0},
 "title": {"font": "Liberation Sans", "fontSize": 18, "fontWeight": "normal", "anchor": "start", "frame": "group", "color": "#000"}
}
}
